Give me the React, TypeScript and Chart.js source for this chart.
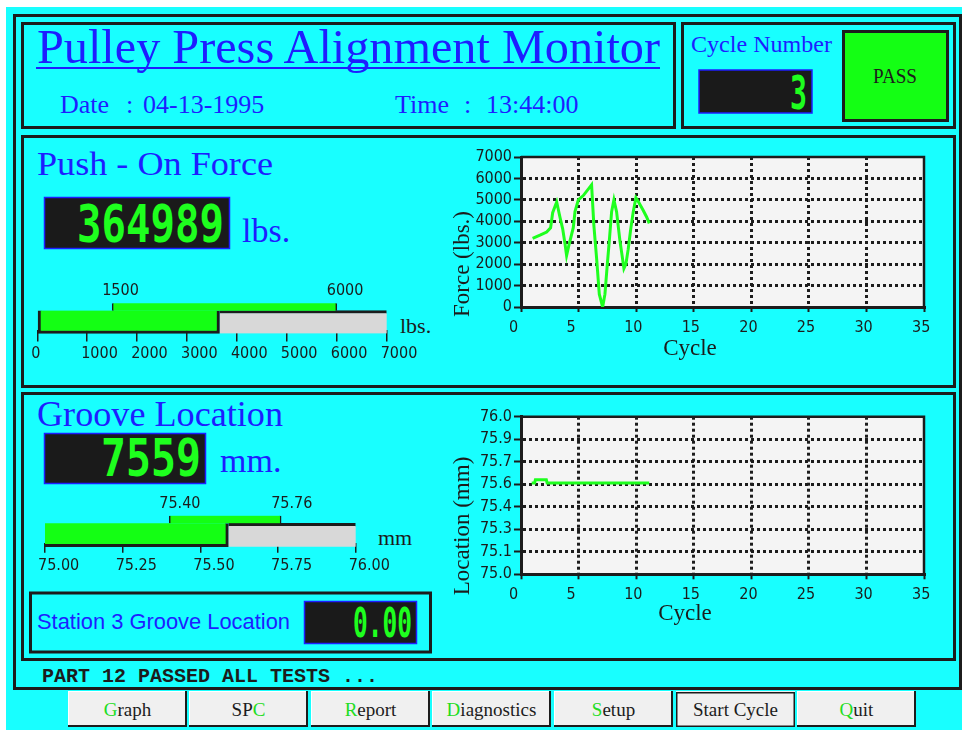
import React, { useEffect, useRef } from 'react';
import { Chart, registerables } from 'chart.js';

Chart.register(...registerables);

// ---------------- data ----------------
const FORCE_CYCLES = [1.01, 1.65, 2.23, 2.57, 2.75, 3.1, 3.38, 3.62, 3.82, 3.96, 4.19, 4.54, 4.69, 4.98, 5.41, 6.13, 6.33, 6.57, 6.8, 7.09, 7.29, 7.49, 7.67, 7.87, 8.07, 8.3, 8.59, 8.74, 8.94, 9.11, 9.31, 9.52, 9.75, 9.98, 10.21, 10.62, 10.91, 11.14];
const FORCE_VALUES = [3200, 3350, 3500, 3700, 4400, 4900, 4200, 3650, 2950, 2400, 2950, 3700, 4450, 5000, 5200, 5700, 3800, 2250, 600, 0, 600, 1950, 3100, 4450, 5000, 4450, 3100, 2550, 1800, 2000, 2700, 3600, 4450, 5100, 4900, 4500, 4200, 3900];

const LOCATION_CYCLES = [0.93, 1.18, 1.25, 2.2, 2.27, 11.14];
const LOCATION_VALUES = [75.58, 75.58, 75.6, 75.6, 75.58, 75.58];

const CYCLE_MIN = 0;
const CYCLE_MAX = 35;
const CYCLE_STEP = 5;

const FORCE_MIN = 0;
const FORCE_MAX = 7000;
const FORCE_STEP = 1000;

const LOCATION_MIN = 75;
const LOCATION_MAX = 76;
const LOCATION_TICKS = [75.0, 75.142857, 75.285714, 75.428571, 75.571429, 75.714286, 75.857143, 76.0];

const FORCE_GAUGE_VALUE = 3649.89;
const FORCE_LIMITS = [1500, 6000];
const GROOVE_GAUGE_VALUE = 75.59;
const GROOVE_LIMITS = [75.4, 75.76];
const GROOVE_GAUGE_STEP = 0.25;

const FORCE_READOUT = '364989';
const GROOVE_READOUT = '7559';
const CYCLE_READOUT = '3';
const STATION_READOUT = '0.00';

const BUTTONS = [
  { label: 'Graph', hot: 0 },
  { label: 'SPC', hot: 2 },
  { label: 'Report', hot: 0 },
  { label: 'Diagnostics', hot: 0 },
  { label: 'Setup', hot: 0 },
  { label: 'Start Cycle', hot: -1 },
  { label: 'Quit', hot: 0 },
];

// ---------------- style ----------------
const CYAN = '#18FFFF';
const INK = '#1C1C1C';
const BLUE = '#1E1EFF';
const LED = '#1EFF1E';
const GREEN = '#14FF14';
const TRACK = '#D8D8D8';
const PLOT_BG = '#F4F4F4';
const NARROW = "'Liberation Sans Narrow', 'DejaVu Sans Condensed', 'DejaVu Sans', sans-serif";
const SERIF = "'Liberation Serif', 'Times New Roman', serif";
const TICK_FONT = { family: NARROW, size: 16, weight: 'condensed' };

// ---------------- plugins ----------------
const plotFrame = {
  id: 'plotFrame',
  beforeDraw(chart: any) {
    const { ctx, chartArea: a } = chart;
    ctx.save();
    ctx.fillStyle = PLOT_BG;
    ctx.fillRect(a.left, a.top, a.right - a.left, a.bottom - a.top);
    ctx.restore();
  },
  beforeDatasetsDraw(chart: any) {
    const { ctx, chartArea: a } = chart;
    ctx.save();
    ctx.strokeStyle = INK;
    ctx.lineWidth = 2.5;
    ctx.beginPath();
    ctx.moveTo(a.left, a.top);
    ctx.lineTo(a.right, a.top);
    ctx.lineTo(a.right, a.bottom);
    ctx.stroke();
    ctx.restore();
  },
};

function axisTitles(o: any) {
  return {
    id: 'axisTitles',
    afterDraw(chart: any) {
      const { ctx, chartArea: a } = chart;
      ctx.save();
      ctx.fillStyle = INK;
      ctx.font = `23px ${SERIF}`;
      ctx.textBaseline = 'alphabetic';
      ctx.textAlign = 'center';
      ctx.fillText(o.xText, a.left + o.xDx, a.bottom + o.xDy);
      ctx.translate(a.left + o.yDx, a.bottom + o.yDy);
      ctx.rotate(-Math.PI / 2);
      ctx.textAlign = 'left';
      ctx.fillText(o.yText, 0, 0);
      ctx.restore();
    },
  };
}

function limitLabels(values: number[], decimals: number, dx: number, gap: number) {
  return {
    id: 'limitLabels',
    afterDatasetsDraw(chart: any) {
      const el: any = chart.getDatasetMeta(0).data[0];
      if (!el) return;
      const top = el.y - el.height / 2;
      const xs = chart.scales.x;
      const { ctx } = chart;
      ctx.save();
      ctx.font = `normal condensed 16px ${NARROW}`;
      ctx.fillStyle = INK;
      ctx.textAlign = 'left';
      ctx.textBaseline = 'alphabetic';
      values.forEach((v) => ctx.fillText(v.toFixed(decimals), xs.getPixelForValue(v) + dx, top - gap));
      ctx.restore();
    },
  };
}

// ---------------- chart builders ----------------
function edgeColor(min: number, max: number) {
  return (c: any) => {
    const v = c.tick ? c.tick.value : undefined;
    if (v === undefined || Math.abs(v - min) < 1e-6 || Math.abs(v - max) < 1e-6) return 'rgba(0,0,0,0)';
    return INK;
  };
}

function buildLineChart(p: any) {
  return {
    type: 'line',
    data: {
      datasets: [
        {
          data: p.xs.map((x: number, i: number) => ({ x, y: p.ys[i] })),
          borderColor: LED,
          borderWidth: 3,
          pointRadius: 0,
          tension: 0,
          fill: false,
        },
      ],
    },
    options: {
      animation: false,
      responsive: false,
      devicePixelRatio: 1,
      events: [],
      layout: { padding: { top: p.padTop, right: 16, left: 0, bottom: 0 } },
      plugins: { legend: { display: false }, tooltip: { enabled: false } },
      scales: {
        x: {
          type: 'linear',
          min: CYCLE_MIN,
          max: CYCLE_MAX,
          ticks: { stepSize: CYCLE_STEP, align: 'start', labelOffset: -12, padding: p.xPad, color: INK, font: TICK_FONT, maxRotation: 0, autoSkip: false },
          grid: { color: edgeColor(CYCLE_MIN, CYCLE_MAX), lineWidth: 3, tickLength: 5, tickColor: INK, tickWidth: 2 },
          border: { display: true, color: INK, width: 3, dash: [3, 3] },
          afterFit: (s: any) => {
            s.height = p.xHeight;
            s.paddingLeft = 0;
            s.paddingRight = 0;
          },
        },
        y: {
          type: 'linear',
          min: p.yMin,
          max: p.yMax,
          ticks: {
            stepSize: p.yStep,
            padding: 2,
            color: INK,
            font: TICK_FONT,
            autoSkip: false,
            callback: (v: any) => p.yFmt(Number(v)),
          },
          afterBuildTicks: p.yTicks
            ? (s: any) => {
                s.ticks = p.yTicks.map((v: number) => ({ value: v }));
              }
            : undefined,
          grid: { color: edgeColor(p.yMin, p.yMax), lineWidth: 3, tickLength: 7, tickColor: INK, tickWidth: 2 },
          border: { display: true, color: INK, width: 3, dash: [3, 3] },
          afterFit: (s: any) => {
            s.width = 81;
            s.paddingTop = 0;
            s.paddingBottom = 0;
          },
        },
      },
    },
    plugins: [plotFrame, axisTitles(p.titles)],
  };
}

function buildGauge(p: any) {
  return {
    type: 'bar',
    data: {
      labels: ['limit', 'value'],
      datasets: [
        {
          data: [[p.limits[0], p.limits[1]], null],
          backgroundColor: GREEN,
          borderColor: INK,
          borderWidth: { left: 1.5, right: 1.5, top: 0, bottom: 0 },
          borderSkipped: false,
          barThickness: p.limitThickness,
          grouped: false,
        },
        {
          data: [null, [p.min, p.value]],
          backgroundColor: GREEN,
          borderColor: INK,
          borderWidth: { left: p.leftEdge, right: 3, top: 0, bottom: 3 },
          borderSkipped: false,
          barThickness: p.trackThickness,
          grouped: false,
          clip: false,
        },
        {
          data: [null, [p.value, p.max]],
          backgroundColor: TRACK,
          borderColor: INK,
          borderWidth: { left: 0, right: 0, top: 3, bottom: 0 },
          borderSkipped: false,
          barThickness: p.trackThickness,
          grouped: false,
          clip: false,
        },
      ],
    },
    options: {
      indexAxis: 'y',
      animation: false,
      responsive: false,
      devicePixelRatio: 1,
      events: [],
      layout: { padding: { left: p.padLeft, right: p.padRight, top: p.padTop, bottom: 0 } },
      plugins: { legend: { display: false }, tooltip: { enabled: false } },
      scales: {
        x: {
          type: 'linear',
          min: p.min,
          max: p.max,
          ticks: {
            stepSize: p.step,
            align: 'start',
            labelOffset: p.labelOffset,
            padding: 3,
            color: INK,
            font: TICK_FONT,
            maxRotation: 0,
            autoSkip: false,
            callback: (v: any) => Number(v).toFixed(p.decimals),
          },
          grid: { drawOnChartArea: false, drawTicks: true, tickLength: p.tickLength, tickColor: INK, tickWidth: 1.5, color: INK, lineWidth: 1.5 },
          border: { display: false },
          afterFit: (s: any) => {
            s.height = p.xHeight;
            s.paddingLeft = 0;
            s.paddingRight = 0;
          },
        },
        y: { display: false },
      },
    },
    plugins: [limitLabels(p.limits, p.decimals, -10, 8)],
  };
}

function ChartCanvas({ left, top, width, height, build }: any) {
  const ref = useRef<HTMLCanvasElement | null>(null);
  useEffect(() => {
    const chart = new Chart(ref.current as HTMLCanvasElement, build());
    return () => chart.destroy();
  }, []);
  return (
    <canvas
      ref={ref}
      width={width}
      height={height}
      style={{ position: 'absolute', left, top, width, height, display: 'block' }}
    />
  );
}

// ---------------- svg pieces ----------------
function Readout({ x, y, w, h, text, right, base, len, size, sy }: any) {
  return (
    <g>
      <rect x={x} y={y} width={w} height={h} fill="#1A1A1A" stroke={BLUE} strokeWidth={1.5} />
      <g transform={`translate(${right},${base}) scale(1,${sy})`}>
        <text
          x={0}
          y={0}
          textAnchor="end"
          fontFamily="'DejaVu Sans Mono', 'Liberation Mono', monospace"
          fontWeight="bold"
          fontSize={size}
          fill={LED}
          textLength={len}
          lengthAdjust="spacingAndGlyphs"
        >
          {text}
        </text>
      </g>
    </g>
  );
}

function Button({ x, w, label, hot, pressed }: any) {
  const y = 691;
  const h = 36;
  const chars = label.split('');
  return (
    <g>
      <rect x={x} y={y} width={w} height={h} fill="#F0F0F0" />
      {pressed ? (
        <rect x={x + 0.75} y={y + 1.75} width={w - 1.5} height={h - 2.5} fill="none" stroke={INK} strokeWidth={1.5} />
      ) : (
        <g>
          <line x1={x} y1={y + 0.5} x2={x + w} y2={y + 0.5} stroke="#FFFFFF" strokeWidth={1} />
          <line x1={x + 0.5} y1={y} x2={x + 0.5} y2={y + h} stroke="#FFFFFF" strokeWidth={1} />
          <line x1={x} y1={y + h - 1} x2={x + w} y2={y + h - 1} stroke={INK} strokeWidth={2} />
          <line x1={x + w - 1} y1={y} x2={x + w - 1} y2={y + h} stroke={INK} strokeWidth={2} />
        </g>
      )}
      <text x={x + w / 2} y={716} textAnchor="middle" fontFamily={SERIF} fontSize={19} fill={INK}>
        {chars.map((c: string, i: number) => (
          <tspan key={i} fill={i === hot ? '#22DD22' : INK}>
            {c}
          </tspan>
        ))}
      </text>
    </g>
  );
}

const BUTTON_X = [68, 189, 311, 432, 554, 676, 797];

export default function App() {
  return (
    <div style={{ position: 'absolute', left: 0, top: 0, width: 965, height: 730, overflow: 'hidden', background: '#fff' }}>
      <svg width={965} height={730} style={{ position: 'absolute', left: 0, top: 0 }}>
        <rect x={0} y={0} width={965} height={730} fill="#FFFFFF" />
        <rect x={6} y={7} width={956} height={723} fill={CYAN} />

        {/* frames */}
        <rect x={14.5} y={15.5} width={946} height={673} fill="none" stroke={INK} strokeWidth={3} />
        <rect x={22.5} y={23.5} width={652} height={104} fill="none" stroke={INK} strokeWidth={3} />
        <rect x={682.5} y={23.5} width={272} height={104} fill="none" stroke={INK} strokeWidth={3} />
        <rect x={22.5} y={136.5} width={932} height={250} fill="none" stroke={INK} strokeWidth={3} />
        <rect x={22.5} y={393.5} width={932} height={266} fill="none" stroke={INK} strokeWidth={3} />
        <rect x={30.5} y={593} width={400} height={59} fill="none" stroke={INK} strokeWidth={3} />

        {/* header */}
        <text x={37} y={62.5} fontFamily={SERIF} fontSize={48} fill={BLUE} textLength={623} lengthAdjust="spacingAndGlyphs">
          Pulley Press Alignment Monitor
        </text>
        <line x1={36} y1={68} x2={660} y2={68} stroke={BLUE} strokeWidth={2} />
        <text y={113} fontFamily={SERIF} fontSize={26} fill={BLUE}>
          <tspan x={60}>Date</tspan>
          <tspan x={126}>:</tspan>
          <tspan x={143}>04-13-1995</tspan>
          <tspan x={395}>Time</tspan>
          <tspan x={464}>:</tspan>
          <tspan x={486}>13:44:00</tspan>
        </text>

        <text x={691} y={51.5} fontFamily={SERIF} fontSize={24} fill={BLUE} textLength={141} lengthAdjust="spacingAndGlyphs">
          Cycle Number
        </text>
        <Readout x={699} y={70} w={113} h={43} text={CYCLE_READOUT} right={807} base={109} len={17} size={34} sy={1.37} />
        <rect x={843.5} y={31.5} width={104} height={89} fill={GREEN} stroke={INK} strokeWidth={3} />
        <text x={895} y={83} textAnchor="middle" fontFamily={SERIF} fontSize={20} fill={INK} textLength={44} lengthAdjust="spacingAndGlyphs">
          PASS
        </text>

        {/* push-on force */}
        <text x={37} y={175} fontFamily={SERIF} fontSize={34} fill={BLUE} textLength={236} lengthAdjust="spacingAndGlyphs">
          Push - On Force
        </text>
        <Readout x={44.5} y={197.5} w={185} h={51} text={FORCE_READOUT} right={224} base={242} len={147} size={40} sy={1.27} />
        <text x={242} y={242} fontFamily={SERIF} fontSize={34} fill={BLUE}>
          lbs.
        </text>
        <text x={400} y={332.5} fontFamily={SERIF} fontSize={22} fill={INK}>
          lbs.
        </text>

        {/* groove */}
        <text x={37} y={425.5} fontFamily={SERIF} fontSize={35} fill={BLUE} textLength={246} lengthAdjust="spacingAndGlyphs">
          Groove Location
        </text>
        <Readout x={44.5} y={433.5} w={161} h={50} text={GROOVE_READOUT} right={201} base={476} len={100} size={40} sy={1.27} />
        <text x={220} y={471.5} fontFamily={SERIF} fontSize={34} fill={BLUE}>
          mm.
        </text>
        <text x={378} y={545} fontFamily={SERIF} fontSize={22} fill={INK}>
          mm
        </text>

        <text x={37} y={629} fontFamily="'Liberation Sans', Arial, sans-serif" fontSize={22} fill={BLUE} textLength={253} lengthAdjust="spacingAndGlyphs">
          Station 3 Groove Location
        </text>
        <Readout x={304.5} y={601.5} w={112} h={42} text={STATION_READOUT} right={412} base={637} len={59} size={30} sy={1.37} />

        {/* status */}
        <text x={42} y={682} fontFamily="'Liberation Mono', 'DejaVu Sans Mono', monospace" fontWeight="bold" fontSize={20} fill={INK} textLength={336} lengthAdjust="spacingAndGlyphs">
          PART 12 PASSED ALL TESTS ...
        </text>

        {/* buttons */}
        {BUTTONS.map((b, i) => (
          <Button key={b.label} x={BUTTON_X[i]} w={119} label={b.label} hot={b.hot} pressed={b.label === 'Start Cycle'} />
        ))}
      </svg>

      <ChartCanvas
        left={440}
        top={145}
        width={500}
        height={225}
        build={() =>
          buildLineChart({
            xs: FORCE_CYCLES,
            ys: FORCE_VALUES,
            yMin: FORCE_MIN,
            yMax: FORCE_MAX,
            yStep: FORCE_STEP,
            yFmt: (v: number) => String(Math.round(v)),
            padTop: 12,
            xHeight: 63,
            xPad: 6,
            titles: { xText: 'Cycle', xDx: 169, xDy: 48, yText: 'Force (lbs.)', yDx: -52, yDy: 10 },
          })
        }
      />
      <ChartCanvas
        left={440}
        top={405}
        width={500}
        height={225}
        build={() =>
          buildLineChart({
            xs: LOCATION_CYCLES,
            ys: LOCATION_VALUES,
            yMin: LOCATION_MIN,
            yMax: LOCATION_MAX,
            yTicks: LOCATION_TICKS,
            yFmt: (v: number) => v.toFixed(1),
            padTop: 11.7,
            xHeight: 55.7,
            xPad: 5.5,
            titles: { xText: 'Cycle', xDx: 164, xDy: 46, yText: 'Location (mm)', yDx: -52, yDy: 21 },
          })
        }
      />
      <ChartCanvas
        left={20}
        top={275}
        width={400}
        height={95}
        build={() =>
          buildGauge({
            min: FORCE_MIN,
            max: FORCE_MAX,
            step: FORCE_STEP,
            value: FORCE_GAUGE_VALUE,
            limits: FORCE_LIMITS,
            decimals: 0,
            padLeft: 17.3,
            padRight: 33.3,
            padTop: 24.5,
            xHeight: 40.5,
            tickLength: 12,
            labelOffset: -6,
            limitThickness: 7.5,
            trackThickness: 23,
            leftEdge: 3,
          })
        }
      />
      <ChartCanvas
        left={20}
        top={490}
        width={400}
        height={90}
        build={() =>
          buildGauge({
            min: LOCATION_MIN,
            max: LOCATION_MAX,
            step: GROOVE_GAUGE_STEP,
            value: GROOVE_GAUGE_VALUE,
            limits: GROOVE_LIMITS,
            decimals: 2,
            padLeft: 25,
            padRight: 64.3,
            padTop: 21.75,
            xHeight: 37.25,
            tickLength: 10,
            labelOffset: -7,
            limitThickness: 7.6,
            trackThickness: 23.4,
            leftEdge: 0,
          })
        }
      />
    </div>
  );
}
